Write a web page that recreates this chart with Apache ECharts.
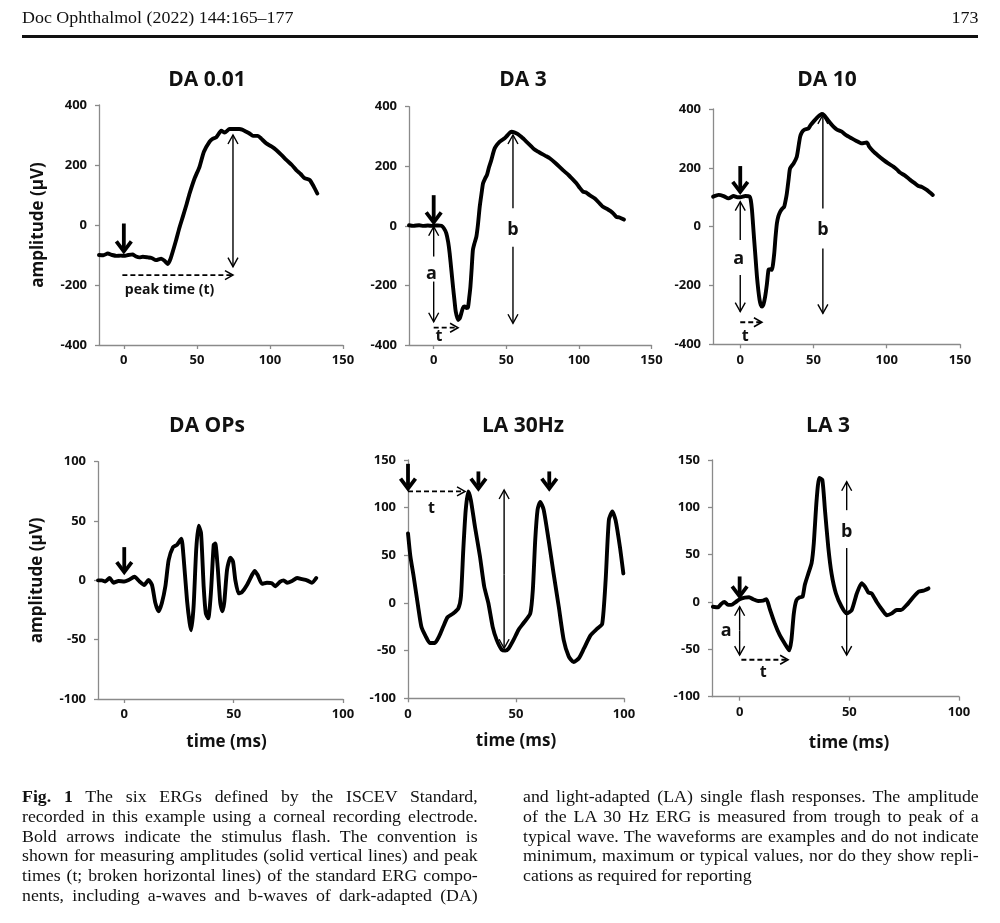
<!DOCTYPE html>
<html><head><meta charset="utf-8">
<script src="https://cdn.jsdelivr.net/npm/echarts@6/dist/echarts.min.js"></script>
<style>
html,body{margin:0;padding:0;background:#fff;}
#page{position:relative;width:1000px;height:923px;overflow:hidden;background:#fff;}
#chart{position:absolute;left:0;top:0;width:1000px;height:923px;}
.serif{font-family:"Liberation Serif","Times New Roman",serif;color:#111;position:absolute;}
.hdr{font-size:17px;line-height:17px;top:9px;white-space:nowrap;}
.hdrL{left:22px;transform-origin:0 0;transform:scaleX(1.055);}
.hdrR{right:22px;transform-origin:100% 0;transform:scaleX(1.055);}
.rule{position:absolute;left:22px;width:956px;top:35px;height:2.7px;background:#111;}
.cap{font-size:16.5px;line-height:19.8px;height:19.8px;text-align:justify;text-align-last:justify;transform-origin:0 0;transform:scaleX(1.08);width:422px;}
.cap.last{text-align-last:left;}
</style></head>
<body>
<div id="page">
<div id="chart"></div>
<div class="serif hdr hdrL">Doc Ophthalmol (2022) 144:165–177</div>
<div class="serif hdr hdrR">173</div>
<div class="rule"></div>
<div id="capL"></div>
<div id="capR"></div>
</div>
<script>
// ---------- tick labels / titles ----------
const panelTitles = ['DA 0.01', 'DA 3', 'DA 10', 'DA OPs', 'LA 30Hz', 'LA 3'];
const xTicksTop = [0, 50, 100, 150];
const xTicksBottom = [0, 50, 100];
const yAxisName = 'amplitude (µV)';
const xAxisName = 'time (ms)';

// ---------- waveforms [time ms, amplitude µV] ----------
const da001Wave = [[-17,-100],[-14,-101],[-11,-95],[-8,-100],[-5,-103],[-2,-102],[0,-103],[3,-100],[6,-98],[8,-104],[10.7,-108],[13,-106],[16.4,-108],[19,-110],[22,-117],[25.6,-112],[28,-120],[30,-130],[32,-112],[35.8,-50],[38,-10],[40.4,28],[43,70],[45,105],[48.4,155],[51.8,194],[54.8,244],[58.7,278],[61,288],[63.2,292],[66.7,314],[69,308],[72.4,320],[76,320],[79,320],[81,318],[83.8,311],[86,305],[88.4,297],[91.8,297],[94,288],[97.5,272],[101,262],[104.3,250],[108,233],[111.2,217],[115,200],[118,183],[121,170],[123.7,156],[127.2,150],[130,128],[132.4,105]];
const da3Wave = [[-17,2],[-14,0],[-10,2],[-7,0],[-4,1],[-1,0],[0,1],[3,1],[5.3,0],[7,-8],[8.7,-25],[10,-55],[11,-92],[12.2,-150],[13.3,-204],[14.3,-250],[15.2,-288],[16.8,-316],[18,-310],[19,-294],[20.2,-275],[21.3,-271],[22.5,-276],[23.6,-274],[24.5,-240],[25.3,-204],[26.2,-140],[27,-81],[28,-60],[29.4,-36],[30.5,5],[31.7,64],[33,110],[34,143],[35.5,160],[36.7,171],[38,195],[39.7,221],[41,245],[42,260],[43.5,272],[45.5,283],[47,288],[48.9,294],[51,305],[53.5,316],[55.5,314],[58,308],[60.5,298],[63.8,283],[67,268],[69,258],[71.9,249],[74,243],[77,235],[79.9,227],[84,210],[89,187],[93,170],[96,155],[98.3,143],[100.5,128],[102.8,115],[105,112],[107.4,103],[111,92],[116.6,64],[120,55],[123,45],[125.8,30],[128,28],[131,21]];
const da10Wave = [[-18.5,102],[-14.8,108],[-11.4,104],[-8,96],[-4.5,104],[-2,100],[0,100],[3.4,104],[6.4,102],[7.2,90],[8,57],[8.7,10],[9.5,-45],[10.5,-110],[11.4,-170],[12.3,-215],[13.2,-249],[14,-266],[14.8,-272],[15.8,-265],[17,-238],[18.2,-195],[19.3,-147],[20.5,-145],[21.6,-147],[23.2,-91],[24,-40],[25,11],[26,35],[27.3,51],[28.5,60],[30,68],[31,90],[31.8,113],[33,160],[34,198],[36.4,215],[38.6,238],[40,280],[40.9,306],[42,320],[43.6,329],[46.6,334],[48,345],[50,357],[52.7,372],[55.7,383],[57,380],[59,368],[61,355],[63.6,340],[66,330],[69.3,323],[72,312],[76.1,300],[79,292],[83,283],[86.4,286],[88,272],[91,255],[94,242],[97.7,227],[101,215],[104.5,204],[107,194],[109,184],[112,175],[116,159],[119,148],[121.6,138],[124,135],[127.3,125],[129,118],[131.4,108]];
const opsWave = [[-12,0],[-10.2,0],[-8.7,-1],[-6.7,2],[-4.9,-2],[-2.6,-0.5],[0,-1],[2,0.3],[4.7,3],[7,-1],[9.1,-4],[11.1,0.3],[12.7,-4],[14.2,-19],[15.7,-26],[17.2,-19],[18.8,-5],[20.3,17],[22.3,28],[24.1,30],[26.1,35],[27.1,20],[28.7,-17],[29.9,-36],[30.6,-42],[31.7,-22],[32.9,26],[34,46],[35.1,40],[36.3,-5],[37.3,-28],[38.4,-32],[39.6,-11],[40.9,30],[41.6,31],[42.7,11.5],[43.9,-19],[44.8,-26],[45.7,-19],[47,9],[48.5,19],[49.7,16],[50.8,0],[52.3,-11],[53.8,-10],[56.1,-4],[58.4,4.5],[59.6,8],[61,4.5],[63,-3],[65.2,-2],[67.5,-2.5],[69,-5],[71.3,-1],[72.9,0],[74.4,-2],[76.7,-0.5],[79,2],[81.3,1],[83.5,0],[85.8,-2],[87.8,2]];
const la30Wave = [[0,73],[1.1,49],[2.6,28],[4.7,-4],[6.2,-25],[8.2,-35],[10.1,-42],[12.4,-42],[14.4,-35],[16.3,-25],[18.3,-15],[20.9,-11],[23.3,-5.6],[24.5,6.6],[25.6,56],[26.7,97],[27.9,117],[29.1,108],[31,80],[33.3,49],[35.3,17],[37.2,0],[39.2,-25],[41.1,-39],[43.4,-49],[45,-50],[46.5,-48],[48.8,-39],[51.2,-28],[53.5,-21],[56.6,-11],[57.8,14],[58.9,66],[60,98],[61.2,106],[62.8,98],[65.1,66],[67.4,31],[69.8,-4],[72.1,-39],[74.4,-56],[76.7,-62],[79.1,-58],[81.4,-48],[84.5,-34],[87.6,-27],[89.9,-22],[91.5,24],[93,87],[94.6,96],[96.1,87],[98.1,59],[99.7,31]];
const la3Wave = [[-12.2,-5],[-9.9,-5.6],[-8.4,-2],[-6.9,0],[-5.3,-3],[-3.8,-3],[-1.8,0],[0,3],[2.3,4.6],[4.3,5],[6.1,3],[8.4,1],[10.7,1.4],[12.2,3],[13.7,-7],[16,-22.5],[18.3,-35],[20.6,-44],[22.6,-51],[23.6,-40],[24.7,-12],[25.9,2],[27.4,5],[28.7,5.6],[29.7,18],[31.3,30],[32.8,41],[33.8,62],[35.1,108],[36.3,131],[37.7,129],[38.9,97],[40.4,58],[41.9,30],[43.9,9],[46.5,-5],[48.8,-12],[51.1,-8.5],[53.4,9],[55.6,20],[57.2,16],[58.7,10],[60.2,9],[62.5,0],[65.2,-9],[67.1,-14],[69.4,-12],[71.6,-8.5],[73.5,-8.5],[76.2,-3],[79.3,5.6],[81.6,11],[83.8,12],[86.1,14.4]];

// ---------- annotations ----------
// bold stimulus arrows [t, from, tip]
const da001Flash = [[0, 5, -88]];
const da3Flash = [[0, 103, 12]];
const da10Flash = [[0, 206, 118]];
const opsFlash = [[0, 28, 7]];
const la30Flash = [[0, 146, 120], [32.6, 138, 120], [65.4, 138, 120]];
const la3Flash = [[0, 27, 6]];
// amplitude arrows [t, top, bottom, gapTop, gapBottom]
const da001Amp = [[74.7, 300, -139, 80, 80]];
const da3Amp = [[0, -3, -322, -103, -187], [54.6, 305, -327, 59, -70]];
const da10Amp = [[0, 85, -289, -45, -164], [56.4, 380, -295, 62, -74]];
const la30Amp = [[44.5, 118.5, -47.5, 30, 30]];
const la3Amp = [[0, -5, -56, -30, -30], [48.8, 127, -56, 97, 57]];
// peak time arrows [from t, to t, amplitude]
const da001Time = [[-1, 74.7, -167]];
const da3Time = [[0, 16.8, -342]];
const da10Time = [[0, 14.8, -325]];
const la30Time = [[0, 26.4, 117]];
const la3Time = [[0.8, 22.1, -61]];
// labels [t, amplitude, text, size]
const da001Labels = [[31.3, -217, 'peak time (t)', 14]];
const da3Labels = [[-1.5, -160, 'a', 18], [3.7, -372, 't', 16], [54.6, -14, 'b', 18]];
const da10Labels = [[-1, -108, 'a', 18], [3.4, -374, 't', 16], [56.4, -11, 'b', 18]];
const la30Labels = [[10.9, 99, 't', 16]];
const la3Labels = [[-6.1, -31, 'a', 18], [10.7, -74, 't', 16], [48.8, 74, 'b', 18]];

// ---------- caption ----------
const captionLeft = [
  '<b>Fig. 1</b> The six ERGs defined by the ISCEV Standard,',
  'recorded in this example using a corneal recording electrode.',
  'Bold arrows indicate the stimulus flash. The convention is',
  'shown for measuring amplitudes (solid vertical lines) and peak',
  'times (t; broken horizontal lines) of the standard ERG compo-',
  'nents, including a-waves and b-waves of dark-adapted (DA)'
];
const captionRight = [
  'and light-adapted (LA) single flash responses. The amplitude',
  'of the LA 30 Hz ERG is measured from trough to peak of a',
  'typical wave. The waveforms are examples and do not indicate',
  'minimum, maximum or typical values, nor do they show repli-',
  'cations as required for reporting'
];

function placeCaption(id, lines, left) {
  const host = document.getElementById(id);
  lines.forEach((l, i) => {
    const d = document.createElement('div');
    d.className = 'serif cap' + (i === lines.length - 1 && id === 'capR' ? ' last' : '');
    d.style.left = left + 'px';
    d.style.top = (787 + i * 19.8) + 'px';
    d.innerHTML = l;
    host.appendChild(d);
  });
}
placeCaption('capL', captionLeft, 22);
placeCaption('capR', captionRight, 523);

// ---------- layout ----------
const FONT = '"Open Sans", "DejaVu Sans", sans-serif';
const layout = [
  {left: 99, top: 105, width: 244, height: 240, xmin: -17, xmax: 150, ymin: -400, ymax: 400, yint: 200, tx: 207, ty: 79, ng: 31},
  {left: 409, top: 106.7, width: 242.5, height: 238.3, xmin: -17, xmax: 150, ymin: -400, ymax: 400, yint: 200, tx: 523, ty: 79, ng: 31},
  {left: 713, top: 109, width: 247, height: 235.3, xmin: -18.6, xmax: 150, ymin: -400, ymax: 400, yint: 200, tx: 827, ty: 79, ng: 31},
  {left: 98, top: 461.7, width: 245, height: 237.3, xmin: -12, xmax: 100, ymin: -100, ymax: 100, yint: 50, tx: 207, ty: 425, ng: 35},
  {left: 408, top: 460, width: 216, height: 238.3, xmin: 0, xmax: 100, ymin: -100, ymax: 150, yint: 50, tx: 523, ty: 425, ng: 34},
  {left: 712, top: 460, width: 247, height: 236.7, xmin: -12.6, xmax: 100, ymin: -100, ymax: 150, yint: 50, tx: 828, ty: 425, ng: 38}
];
const waves = [da001Wave, da3Wave, da10Wave, opsWave, la30Wave, la3Wave];
const flashes = [da001Flash, da3Flash, da10Flash, opsFlash, la30Flash, la3Flash];
const amps = [da001Amp, da3Amp, da10Amp, [], la30Amp, la3Amp];
const times = [da001Time, da3Time, da10Time, [], la30Time, la3Time];
const labels = [da001Labels, da3Labels, da10Labels, [], la30Labels, la3Labels];
const xNamePad = [0, 0, 0, 12, 0, 27];

const AXIS_COLOR = '#8a8a8a';

function flashSeries(data, i) {
  return {type: 'custom', xAxisIndex: i, yAxisIndex: i, silent: true, z: 5,
    data: data.map(d => [d[0], d[1]]),
    renderItem(params, api) {
      const d = data[params.dataIndex];
      const p1 = api.coord([d[0], d[1]]), p2 = api.coord([d[0], d[2]]);
      return {type: 'group', children: [
        {type: 'line', shape: {x1: p1[0], y1: p1[1], x2: p2[0], y2: p2[1] - 3}, style: {stroke: '#000', lineWidth: 3.8}},
        {type: 'polyline', shape: {points: [[p2[0] - 7.5, p2[1] - 10], [p2[0], p2[1]], [p2[0] + 7.5, p2[1] - 10]]},
          style: {stroke: '#000', lineWidth: 3.8, fill: null, lineJoin: 'miter'}}
      ]};
    }};
}
function ampSeries(data, i) {
  return {type: 'custom', xAxisIndex: i, yAxisIndex: i, silent: true, z: 5,
    data: data.map(d => [d[0], d[1]]),
    renderItem(params, api) {
      const d = data[params.dataIndex];
      const pT = api.coord([d[0], d[1]]), pB = api.coord([d[0], d[2]]);
      const g1 = api.coord([d[0], d[3]]), g2 = api.coord([d[0], d[4]]);
      const st = {stroke: '#000', lineWidth: 1.4, fill: null};
      return {type: 'group', children: [
        {type: 'line', shape: {x1: pT[0], y1: pT[1], x2: g1[0], y2: g1[1]}, style: st},
        {type: 'line', shape: {x1: g2[0], y1: g2[1], x2: pB[0], y2: pB[1]}, style: st},
        {type: 'polyline', shape: {points: [[pT[0] - 5, pT[1] + 9], [pT[0], pT[1]], [pT[0] + 5, pT[1] + 9]]}, style: st},
        {type: 'polyline', shape: {points: [[pB[0] - 5, pB[1] - 9], [pB[0], pB[1]], [pB[0] + 5, pB[1] - 9]]}, style: st}
      ]};
    }};
}
function timeSeries(data, i) {
  return {type: 'custom', xAxisIndex: i, yAxisIndex: i, silent: true, z: 5,
    data: data.map(d => [d[0], d[2]]),
    renderItem(params, api) {
      const d = data[params.dataIndex];
      const p1 = api.coord([d[0], d[2]]), p2 = api.coord([d[1], d[2]]);
      return {type: 'group', children: [
        {type: 'line', shape: {x1: p1[0], y1: p1[1], x2: p2[0] - 1, y2: p2[1]}, style: {stroke: '#000', lineWidth: 1.8, lineDash: [5, 3]}},
        {type: 'polyline', shape: {points: [[p2[0] - 8, p2[1] - 4.5], [p2[0], p2[1]], [p2[0] - 8, p2[1] + 4.5]]}, style: {stroke: '#000', lineWidth: 1.5, fill: null}}
      ]};
    }};
}
function labelSeries(data, i) {
  return {type: 'custom', xAxisIndex: i, yAxisIndex: i, silent: true, z: 6,
    data: data.map(d => [d[0], d[1]]),
    renderItem(params, api) {
      const d = data[params.dataIndex];
      const p = api.coord([d[0], d[1]]);
      return {type: 'text', x: p[0], y: p[1], style: {text: d[2], fontSize: d[3], fontWeight: 'bold', fontFamily: FONT, fill: '#111', align: 'center', verticalAlign: 'middle'}};
    }};
}

const grid = [], xAxis = [], yAxis = [], series = [], title = [];
layout.forEach((L, i) => {
  const bottomRow = i >= 3;
  grid.push({left: L.left, top: L.top, width: L.width, height: L.height, containLabel: false});
  title.push({text: panelTitles[i], left: L.tx, top: L.ty - 9, textAlign: 'center', padding: 0,
    textStyle: {fontFamily: FONT, fontWeight: 'bold', fontSize: 21, color: '#111'}});
  const ticks = bottomRow ? xTicksBottom : xTicksTop;
  xAxis.push({type: 'value', gridIndex: i, min: L.xmin, max: L.xmax,
    name: bottomRow ? xAxisName : '', nameLocation: 'middle', nameGap: L.ng,
    nameTextStyle: {fontFamily: FONT, fontWeight: 'bold', fontSize: 17, color: '#111', padding: [0, 0, 0, xNamePad[i]]},
    axisLine: {onZero: false, lineStyle: {color: AXIS_COLOR, width: 1.3}},
    axisTick: {show: true, length: 4, inside: false, customValues: ticks, lineStyle: {color: AXIS_COLOR, width: 1.3}},
    axisLabel: {customValues: ticks, margin: 9, fontFamily: FONT, fontWeight: 'bold', fontSize: 13, color: '#111'},
    splitLine: {show: false}});
  yAxis.push({type: 'value', gridIndex: i, min: L.ymin, max: L.ymax, interval: L.yint,
    name: (i === 0 || i === 3) ? yAxisName : '', nameLocation: 'middle', nameRotate: 90, nameGap: 52,
    nameTextStyle: {fontFamily: FONT, fontWeight: 'bold', fontSize: 17, color: '#111'},
    axisLine: {show: true, onZero: false, lineStyle: {color: AXIS_COLOR, width: 1.3}},
    axisTick: {show: true, length: 4, lineStyle: {color: AXIS_COLOR, width: 1.3}},
    axisLabel: {margin: 12, fontFamily: FONT, fontWeight: 'bold', fontSize: 13, color: '#111'},
    splitLine: {show: false}});
  series.push({type: 'line', xAxisIndex: i, yAxisIndex: i, data: waves[i], showSymbol: false, symbol: 'none',
    smooth: 0.2, silent: true, z: 3, lineStyle: {color: '#000', width: 3.9, join: 'round', cap: 'round'}});
  series.push(flashSeries(flashes[i], i));
  if (amps[i].length) series.push(ampSeries(amps[i], i));
  if (times[i].length) series.push(timeSeries(times[i], i));
  if (labels[i].length) series.push(labelSeries(labels[i], i));
});

const chart = echarts.init(document.getElementById('chart'), null, {renderer: 'canvas'});
chart.setOption({animation: false, backgroundColor: '#fff', title, grid, xAxis, yAxis, series, tooltip: {show: false}});
</script>
</body></html>
